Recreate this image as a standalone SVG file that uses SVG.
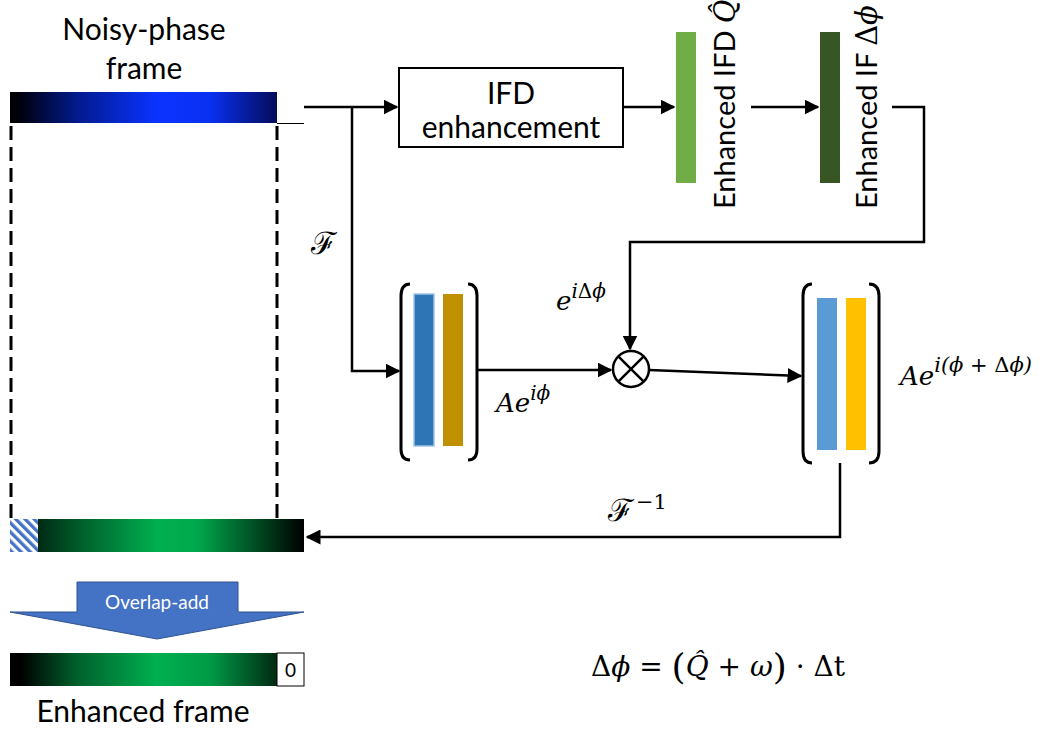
<svg xmlns="http://www.w3.org/2000/svg" width="1041" height="729" viewBox="0 0 1041 729">
  <style>
    .lbl { font-family: "Lato", "Open Sans", "Liberation Sans", sans-serif; font-size: 30px; fill: #000; }
    .vlbl { font-family: "Lato", "Open Sans", "Liberation Sans", sans-serif; font-size: 29px; fill: #000; }
    .math { font-family: "DejaVu Serif", "Liberation Serif", serif; font-style: italic; fill: #000; }
    .up { font-style: normal; }
    .wire { fill: none; stroke: #000; stroke-width: 2.5; }
    .brk { fill: none; stroke: #000; stroke-width: 3; }
    .dash { fill: none; stroke: #000; stroke-width: 3; stroke-dasharray: 14 7; }
  </style>
  <defs>
    <marker id="arrow" viewBox="0 0 10 10" refX="9" refY="5" markerWidth="6" markerHeight="6" markerUnits="strokeWidth" orient="auto">
      <path d="M0,0 L10,5 L0,10 Z" fill="#000"/>
    </marker>
    <linearGradient id="gBlue" x1="0" y1="0" x2="1" y2="0">
      <stop offset="0" stop-color="#000000"/>
      <stop offset="0.03" stop-color="#000008"/>
      <stop offset="0.25" stop-color="#021a8c"/>
      <stop offset="0.55" stop-color="#0a33ff"/>
      <stop offset="0.75" stop-color="#0a30f0"/>
      <stop offset="1" stop-color="#040c5a"/>
    </linearGradient>
    <linearGradient id="gGreen" x1="0" y1="0" x2="1" y2="0">
      <stop offset="0" stop-color="#002a14"/>
      <stop offset="0.2" stop-color="#006a30"/>
      <stop offset="0.45" stop-color="#00b050"/>
      <stop offset="0.6" stop-color="#00a84c"/>
      <stop offset="1" stop-color="#000000"/>
    </linearGradient>
    <linearGradient id="gOut" x1="0" y1="0" x2="1" y2="0">
      <stop offset="0" stop-color="#000000"/>
      <stop offset="0.04" stop-color="#000000"/>
      <stop offset="0.25" stop-color="#00602c"/>
      <stop offset="0.55" stop-color="#00b050"/>
      <stop offset="0.75" stop-color="#009a46"/>
      <stop offset="1" stop-color="#002a12"/>
    </linearGradient>
    <pattern id="hatch" patternUnits="userSpaceOnUse" width="6.5" height="6.5" patternTransform="rotate(-45)">
      <rect width="6.5" height="6.5" fill="#fff"/>
      <rect width="3.3" height="6.5" fill="#4472c4"/>
    </pattern>
  </defs>

  <!-- input frame -->
  <g id="noisy-frame">
    <text class="lbl" x="144" y="40" text-anchor="middle">Noisy-phase</text>
    <text class="lbl" x="144" y="79" text-anchor="middle">frame</text>
    <rect x="10" y="92" width="267" height="31" fill="url(#gBlue)"/>
    <line x1="277" y1="123.5" x2="304" y2="123.5" stroke="#000" stroke-width="1"/>
    <line class="dash" x1="11" y1="126" x2="11" y2="518"/>
    <line class="dash" x1="277" y1="126" x2="277" y2="518"/>
  </g>

  <!-- output (overlap) frame -->
  <g id="overlap-frame">
    <rect x="10" y="519" width="28" height="33" fill="url(#hatch)"/>
    <rect x="38" y="519" width="266" height="33" fill="url(#gGreen)"/>
  </g>

  <g id="overlap-add">
    <path d="M77,582 L238,582 L238,612 L304,612 L157,639 L10,612 L77,612 Z" fill="#4472c4" stroke="#2f528f" stroke-width="1"/>
    <text x="157" y="609" text-anchor="middle" font-family="Lato, 'Open Sans', 'Liberation Sans', sans-serif" font-size="19" fill="#fff">Overlap-add</text>
  </g>

  <g id="enhanced-frame">
    <rect x="10" y="653" width="267" height="33" fill="url(#gOut)"/>
    <rect x="277" y="653" width="27" height="33" fill="#fff" stroke="#000" stroke-width="1"/>
    <text x="290.5" y="677" text-anchor="middle" font-family="Lato, 'Open Sans', 'Liberation Sans', sans-serif" font-size="19" fill="#000">0</text>
    <text class="lbl" x="143" y="722" text-anchor="middle">Enhanced frame</text>
  </g>

  <!-- IFD enhancement block -->
  <g id="ifd-box">
    <rect x="399" y="68" width="224" height="79" fill="#fff" stroke="#000" stroke-width="2"/>
    <text class="lbl" x="511" y="104" text-anchor="middle">IFD</text>
    <text class="lbl" x="511" y="138" text-anchor="middle">enhancement</text>
  </g>

  <g id="ifd-out">
    <rect x="676" y="32" width="20" height="151" fill="#70ad47"/>
    <text class="vlbl" transform="translate(735,209) rotate(-90)">Enhanced IFD <tspan class="math">Q̂</tspan></text>
  </g>

  <g id="if-out">
    <rect x="820" y="32" width="20" height="151" fill="#375623"/>
    <text class="vlbl" transform="translate(877,209) rotate(-90)">Enhanced IF <tspan font-family="'DejaVu Serif', serif">Δ</tspan><tspan class="math">ϕ</tspan></text>
  </g>

  <!-- spectrum of noisy frame -->
  <g id="spec-in">
    <path class="brk" d="M410,284 Q401,284 401,296 L401,449 Q401,460 410,460"/>
    <path class="brk" d="M468,284 Q477,284 477,296 L477,449 Q477,460 468,460"/>
    <rect x="414" y="294" width="20" height="152" fill="#2e75b6" stroke="#9dc3e6" stroke-width="1.5"/>
    <rect x="443" y="294" width="20" height="152" fill="#bf9000"/>
  </g>

  <!-- phase rotation -->
  <g id="multiply">
    <circle cx="631" cy="369" r="18" fill="#fff" stroke="#000" stroke-width="2.5"/>
    <line x1="618.3" y1="356.3" x2="643.7" y2="381.7" stroke="#000" stroke-width="2.5"/>
    <line x1="643.7" y1="356.3" x2="618.3" y2="381.7" stroke="#000" stroke-width="2.5"/>
  </g>

  <!-- spectrum of enhanced frame -->
  <g id="spec-out">
    <path class="brk" d="M812,284 Q803,284 803,296 L803,451 Q803,463 812,463"/>
    <path class="brk" d="M869,284 Q879,284 879,296 L879,451 Q879,463 869,463"/>
    <rect x="817" y="298" width="20" height="152" fill="#5b9bd5"/>
    <rect x="846" y="298" width="20" height="152" fill="#ffc000"/>
  </g>

  <!-- connectors -->
  <g id="connectors">
    <path class="wire" d="M304,107 L397,107" marker-end="url(#arrow)"/>
    <path class="wire" d="M352,107 L352,371 L399,371" marker-end="url(#arrow)"/>
    <path class="wire" d="M623,107 L674,107" marker-end="url(#arrow)"/>
    <path class="wire" d="M751,107 L818,107" marker-end="url(#arrow)"/>
    <path class="wire" d="M892,107 L924,107 L924,242 L630,242 L630,349" marker-end="url(#arrow)"/>
    <path class="wire" d="M478,370 L611,370" marker-end="url(#arrow)"/>
    <path class="wire" d="M649,370 L801,376" marker-end="url(#arrow)"/>
    <path class="wire" d="M840,463 L840,537 L307,537" marker-end="url(#arrow)"/>
  </g>

  <!-- math labels -->
  <g id="labels">
    <text class="math up" x="311" y="254" font-size="31">ℱ</text>
    <text class="math" x="496" y="412" font-size="26">Ae<tspan dy="-12" font-size="20">iϕ</tspan></text>
    <text class="math" x="556" y="310" font-size="26">e<tspan dy="-12" font-size="20">i<tspan class="up">Δ</tspan>ϕ</tspan></text>
    <text class="math" x="900" y="385" font-size="26">Ae<tspan dy="-13" font-size="21">i(ϕ<tspan class="up"> + Δ</tspan>ϕ)</tspan></text>
    <text class="math up" x="608" y="521" font-size="31">ℱ<tspan dx="2" dy="-12" font-size="21">−1</tspan></text>
    <text class="math" x="591" y="676" font-size="28"><tspan class="up">Δ</tspan>ϕ <tspan class="up">= </tspan><tspan class="up" font-size="36" dy="3">(</tspan><tspan dy="-3">Q̂</tspan><tspan class="up"> + </tspan>ω<tspan class="up" font-size="36" dy="3">)</tspan><tspan class="up" dy="-3"> · Δt</tspan></text>
  </g>
</svg>
